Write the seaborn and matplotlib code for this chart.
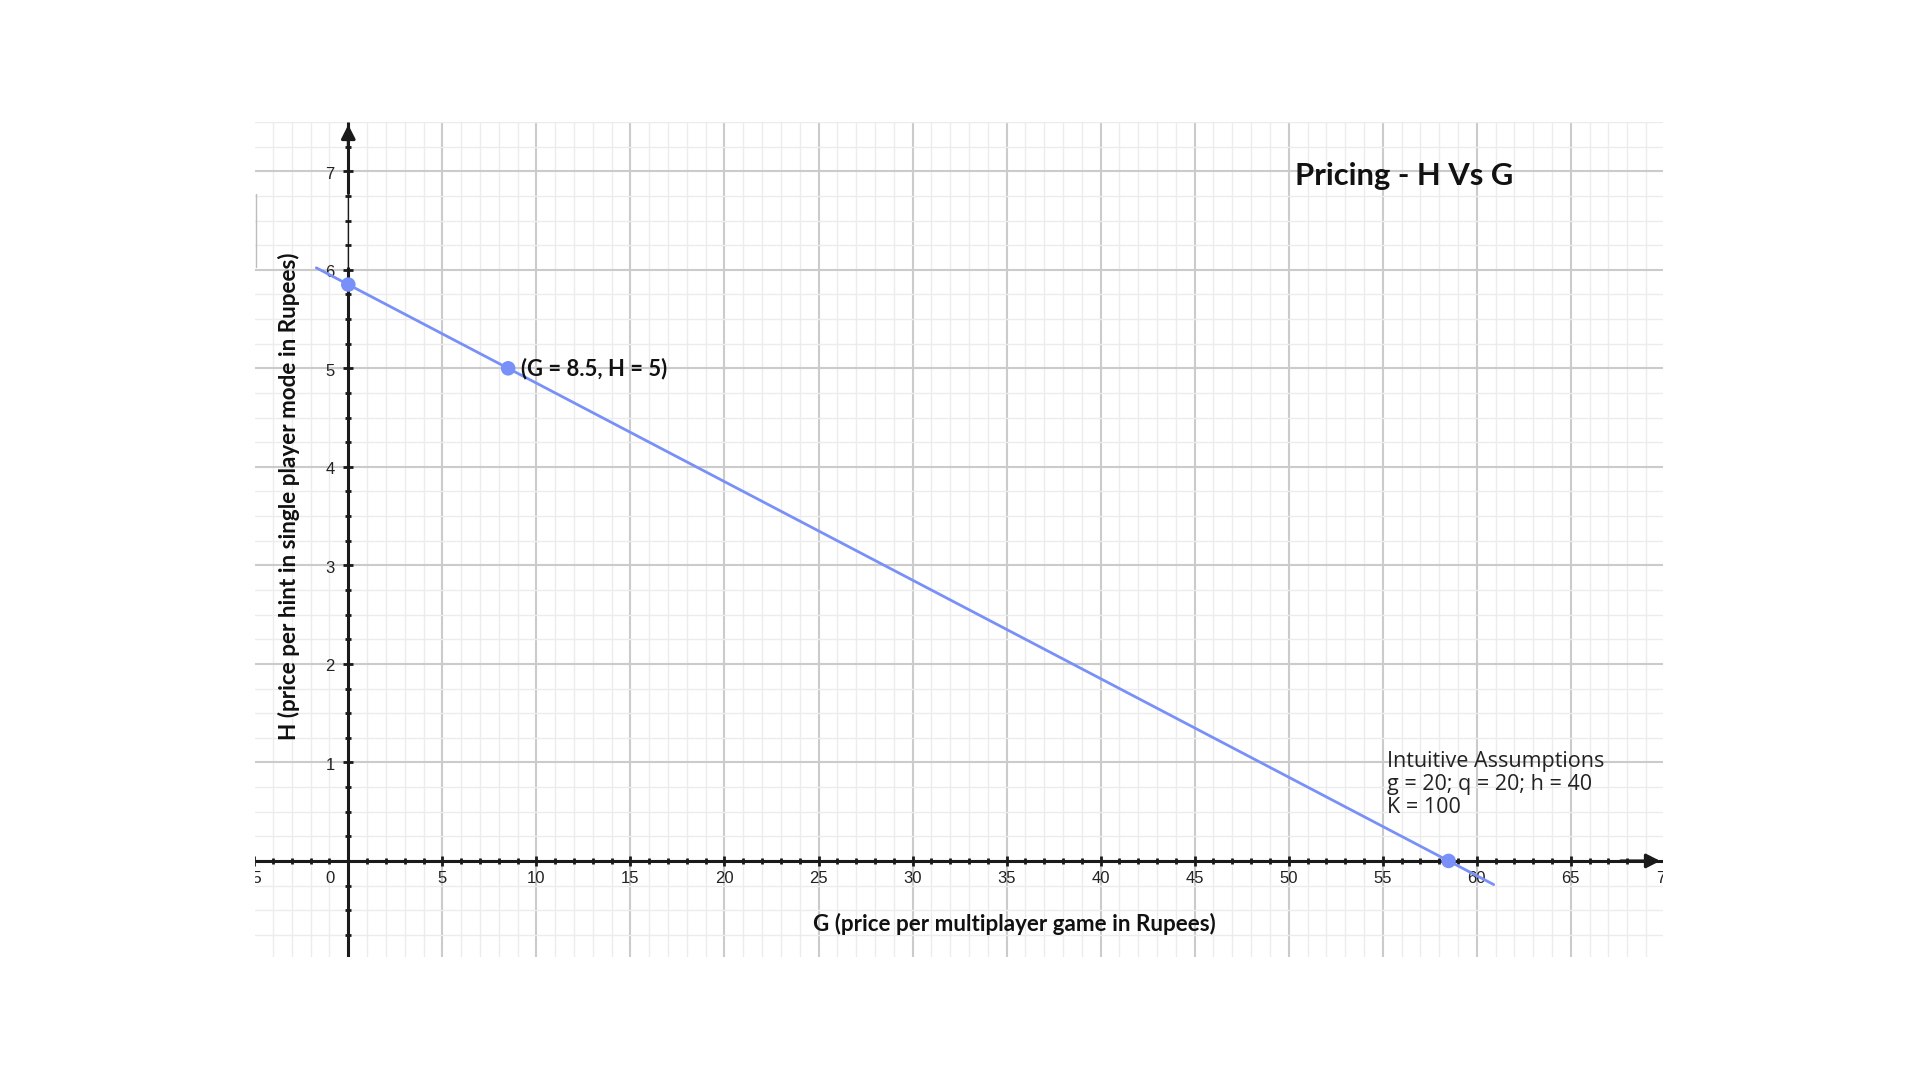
"""Pricing chart: H (price per hint) against G (price per multiplayer game)."""

import matplotlib

matplotlib.use("Agg")
import matplotlib.pyplot as plt
import numpy as np
import pandas as pd
import seaborn as sns

# budget line H = 5.85 - 0.1 * G at both ends
LINE_G = [-1.7, 60.9]
LINE_H = [6.02, -0.24]

# marked points: H-intercept, chosen price pair, G-intercept
POINT_G = [0.0, 8.5, 58.5]
POINT_H = [5.85, 5.0, 0.0]

X_TICK_LABELS = [-5, 0, 5, 10, 15, 20, 25, 30, 35, 40, 45, 50, 55, 60, 65, 70]
Y_TICK_LABELS = [1, 2, 3, 4, 5, 6, 7]

TITLE = "Pricing - H Vs G"
X_LABEL = "G (price per multiplayer game in Rupees)"
Y_LABEL = "H (price per hint in single player mode in Rupees)"
POINT_NOTE = "(G = 8.5, H = 5)"
ASSUMPTIONS = "Intuitive Assumptions\ng = 20; q = 20; h = 40\nK = 100"

XLIM = (-4.96, 69.9)
YLIM = (-0.975, 7.5)
BLUE = "#7890f8"


def draw_grid(ax):
    ax.set_xticks(np.arange(-5, 71, 5))
    ax.set_xticks(np.arange(-5, 71, 1), minor=True)
    ax.set_yticks(np.arange(-1, 8, 1))
    ax.set_yticks(np.arange(-1, 7.6, 0.25), minor=True)
    ax.grid(which="minor", color="#ececec", linewidth=1.0)
    ax.grid(which="major", color="#cbcbcb", linewidth=1.5)
    ax.tick_params(which="both", length=0, labelbottom=False, labelleft=False)
    for spine in ax.spines.values():
        spine.set_visible(False)


def draw_axes_cross(ax):
    kw = dict(color="#1a1a1a", linewidth=2.2, zorder=3, solid_capstyle="butt")
    ax.plot(XLIM, [0, 0], **kw)
    ax.plot([0, 0], [YLIM[0], 6.03], **kw)
    ax.plot([0, 0], [6.77, YLIM[1]], **kw)
    # screenshot artefact: the axis is thin behind a pasted box
    ax.plot([0, 0], [6.03, 6.77], color="#1a1a1a", linewidth=0.9, zorder=3)
    ax.plot([-4.92, -4.92], [6.03, 6.77], color="#bdbdbd", linewidth=1.0, zorder=3)

    arrow = dict(arrowstyle="-|>,head_length=0.55,head_width=0.28", color="#1a1a1a",
                 lw=2.2, mutation_scale=15)
    ax.annotate("", xy=(1.0, 0), xytext=(67.5, 0), xycoords=("axes fraction", "data"),
                textcoords="data", arrowprops=arrow, zorder=4)
    ax.annotate("", xy=(0, 1.0), xytext=(0, 7.2), xycoords=("data", "axes fraction"),
                textcoords="data", arrowprops=arrow, zorder=4)

    mk = dict(linestyle="none", marker="|", color="#1a1a1a", zorder=4)
    xs_minor = [v for v in range(-4, 70) if v != 0 and v % 5 != 0]
    xs_major = [v for v in range(-5, 70, 5) if v != 0]
    ax.plot(xs_minor, np.zeros(len(xs_minor)), markersize=5.0, markeredgewidth=2.0, **mk)
    ax.plot(xs_major, np.zeros(len(xs_major)), markersize=7.5, markeredgewidth=2.0, **mk)
    ys_minor = [v / 4 for v in range(-3, 30) if v % 4 != 0]
    ys_major = Y_TICK_LABELS
    ax.plot(np.zeros(len(ys_minor)), ys_minor, markersize=5.0, markeredgewidth=2.0,
            **{**mk, "marker": "_"})
    ax.plot(np.zeros(len(ys_major)), ys_major, markersize=7.5, markeredgewidth=2.0,
            **{**mk, "marker": "_"})


def draw_tick_labels(ax):
    font = dict(fontsize=12, family="Liberation Sans", color="#222222", zorder=5)
    for v in X_TICK_LABELS:
        x = -0.97 if v == 0 else v
        ax.text(x, -0.183, str(v), ha="center", va="center", clip_on=True, **font)
    for v in Y_TICK_LABELS:
        ax.text(-0.97, v - 0.03, str(v), ha="center", va="center", clip_on=True, **font)


def main():
    sns.set_theme(style="white")
    plt.rcParams["font.family"] = ["Lato", "DejaVu Sans"]

    fig = plt.figure(figsize=(19.2, 10.8), dpi=100)
    fig.patch.set_facecolor("white")
    ax = fig.add_axes([255 / 1920, 123 / 1080, 1408 / 1920, 835 / 1080])
    ax.set_xlim(*XLIM)
    ax.set_ylim(*YLIM)

    draw_grid(ax)
    draw_axes_cross(ax)
    draw_tick_labels(ax)

    line_df = pd.DataFrame({"G": LINE_G, "H": LINE_H})
    sns.lineplot(data=line_df, x="G", y="H", ax=ax, color=BLUE, linewidth=2.0, zorder=6)
    point_df = pd.DataFrame({"G": POINT_G, "H": POINT_H})
    sns.scatterplot(data=point_df, x="G", y="H", ax=ax, color=BLUE, s=110,
                    edgecolor="none", zorder=7, clip_on=False)
    ax.set_xlabel("")
    ax.set_ylabel("")
    ax.set_xlim(*XLIM)
    ax.set_ylim(*YLIM)

    ax.annotate(POINT_NOTE, xy=(POINT_G[1], POINT_H[1]), xytext=(9.5, 0),
                textcoords="offset points", ha="left", va="center",
                fontsize=15.8, fontweight="bold", color="#111111", zorder=8)

    fig.text(1295 / 1920, 1 - 185 / 1080, TITLE, ha="left", va="baseline",
             fontsize=22.3, fontweight="bold", color="#111111")
    fig.text(1014 / 1920, 1 - 924 / 1080, X_LABEL, ha="center", va="center",
             fontsize=16.1, fontweight="bold", color="#111111")
    fig.text(289 / 1920, 1 - 496 / 1080, Y_LABEL, ha="center", va="center",
             rotation=90, fontsize=16.2, fontweight="bold", color="#111111")
    fig.text(1387 / 1920, 1 - 751 / 1080, ASSUMPTIONS, ha="left", va="top",
             fontsize=15.5, family="Open Sans", color="#222222", linespacing=1.12)

    fig.savefig("out.png", dpi=100, facecolor="white")
    plt.close(fig)


if __name__ == "__main__":
    main()
